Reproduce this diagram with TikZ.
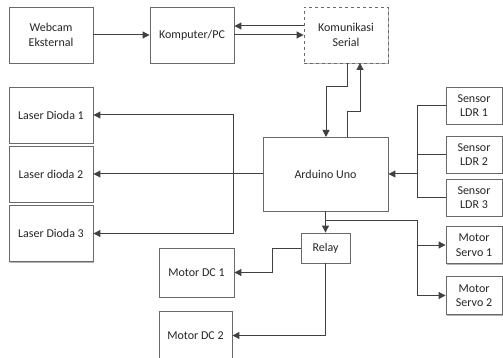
\documentclass[tikz,border=0pt]{standalone}
\usepackage{fontspec}
\setmainfont{Carlito}
\usetikzlibrary{arrows.meta,shadows}
\definecolor{ln}{HTML}{404040}
\definecolor{bx}{HTML}{6A6A6A}
\begin{document}
\begin{tikzpicture}[x=1pt,y=-1pt,
  blk/.style={draw=bx,line width=0.9pt,fill=white,align=center,inner sep=0pt,
    font=\fontsize{12}{14.5}\selectfont,text=black!85,
    drop shadow={shadow xshift=1.2pt,shadow yshift=-1.2pt,fill=black!30,opacity=1}},
  conn/.style={draw=ln,line width=1pt},
  arr/.style={conn,-{Triangle[length=7pt,width=7pt]}}]
\useasboundingbox (0,0) rectangle (503,358);
\node[blk,minimum width=84pt,minimum height=56pt] (web) at (51,35) {Webcam\\Eksternal};
\node[blk,minimum width=84pt,minimum height=56pt] (pc) at (192,35) {Komputer/PC};
\node[blk,minimum width=84pt,minimum height=56pt,dashed,drop shadow={opacity=0}] (kom) at (346,35) {Komunikasi\\Serial};
\node[blk,minimum width=125pt,minimum height=74pt] (ardu) at (325.5,174) {Arduino Uno};
\node[blk,minimum width=84pt,minimum height=56pt] (ld1) at (51,115) {Laser Dioda 1};
\node[blk,minimum width=84pt,minimum height=56pt] (ld2) at (51,174) {Laser dioda 2};
\node[blk,minimum width=84pt,minimum height=56pt] (ld3) at (51,233.5) {Laser Dioda 3};
\node[blk,minimum width=56pt,minimum height=37pt] (ldr1) at (474,105.5) {Sensor\\LDR 1};
\node[blk,minimum width=56pt,minimum height=37pt] (ldr2) at (474,154.5) {Sensor\\LDR 2};
\node[blk,minimum width=56pt,minimum height=37pt] (ldr3) at (474,197.5) {Sensor\\LDR 3};
\node[blk,minimum width=56pt,minimum height=37pt] (sv1) at (474,245) {Motor\\Servo 1};
\node[blk,minimum width=56pt,minimum height=38pt] (sv2) at (474,295.5) {Motor\\Servo 2};
\node[blk,minimum width=49pt,minimum height=30pt] (relay) at (325.5,248) {Relay};
\node[blk,minimum width=75pt,minimum height=49pt] (dc1) at (196.5,272.5) {Motor DC 1};
\node[blk,minimum width=73pt,minimum height=49pt] (dc2) at (195.5,335.5) {Motor DC 2};
% top row
\draw[arr] (web.east) -- (pc.west);
\draw[arr] ([yshift=9pt]kom.west) -- ([yshift=9pt]pc.east);
\draw[arr] (pc.east) -- (kom.west);
% serial <-> arduino
\coordinate (k1) at (347,63);
\coordinate (k2) at (360,63);
\coordinate (a1) at (326,137);
\coordinate (a2) at (347,137);
\draw[arr] (k1) -- (347,87) -| (a1);
\draw[arr] (a2) -- (347,112) -| (k2);
% lasers
\coordinate (lj) at (233,174);
\draw[arr] (ardu.west) -- (ld2.east);
\draw[arr] (lj) |- (ld1.east);
\draw[arr] (lj) |- (ld3.east);
% sensors
\coordinate (sj) at (417,174);
\draw[conn] (ldr1.west) -| (sj);
\draw[conn] (ldr3.west) -| (sj);
\draw[conn] (ldr2.west) -- (ldr2.west -| sj);
\draw[arr] (sj) -- (ardu.east);
% arduino -> relay, servos
\draw[arr] (ardu.south) -- (relay.north);
\coordinate (aj) at (325.5,220);
\coordinate (svj) at (417,220);
\draw[conn] (aj) -- (svj);
\draw[arr] (svj) |- (sv1.west);
\draw[arr] (svj) |- (sv2.west);
% relay -> motors
\draw[arr] (relay.west) -- ++(-28,0) |- (dc1.east);
\draw[arr] (relay.south) |- (dc2.east);
\end{tikzpicture}
\end{document}
